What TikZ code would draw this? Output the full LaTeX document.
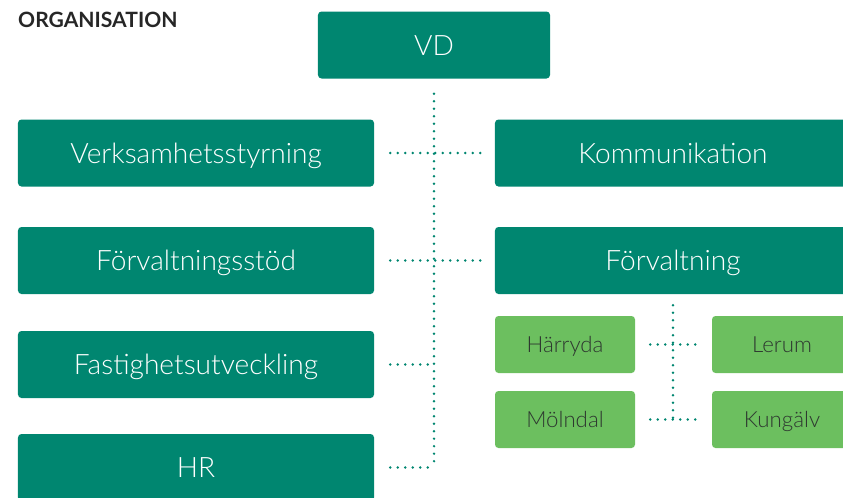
\documentclass[tikz,border=0pt]{standalone}
\usepackage{fontspec}
\setmainfont{Lato}[UprightFont={* Light},BoldFont={* Bold}]
\definecolor{darkgreen}{HTML}{008670}
\definecolor{lightgreen}{HTML}{6CBF5F}
\definecolor{textgray}{HTML}{2E3830}

\begin{document}
\begin{tikzpicture}[x=0.03cm, y=-0.03cm,
    unit/.style={fill=darkgreen, rounded corners=3pt, text=white, inner sep=0pt,
      text height=17.2pt, text depth=0pt,
      minimum width=10.68cm, minimum height=2.01cm, font=\fontsize{24}{28}\selectfont},
    office/.style={fill=lightgreen, rounded corners=3pt, text=textgray, inner sep=0pt,
      text height=13.6pt, text depth=0pt,
      minimum width=4.2cm, minimum height=1.71cm, font=\fontsize{19}{22}\selectfont},
    link/.style={draw=darkgreen, line width=2.3pt, line cap=round, dash pattern=on 0pt off 6.4pt}]
   \useasboundingbox (0,0) rectangle (843,497);
   \clip (0,0) rectangle (843,497);
   \node[anchor=north west, inner sep=0pt, text=black!85,
     font=\bfseries\fontsize{18}{20}\selectfont] (title) at (18,12) {ORGANISATION};
   \node[unit, minimum width=6.96cm] (vd) at (434,45) {VD};
   \node[unit] (vs)   at (196,153)   {Verksamhetsstyrning};
   \node[unit] (stod) at (196,260.5) {Förvaltningsstöd};
   \node[unit] (fast) at (196,364.5) {Fastighetsutveckling};
   \node[unit] (hr)   at (196,467.5) {HR};
   \node[unit] (kom)  at (673,153)   {Kommunikation};
   \node[unit] (fv)   at (673,260.5) {Förvaltning};
   \node[office] (har) at (565,344.5) {Härryda};
   \node[office] (ler) at (782,344.5) {Lerum};
   \node[office] (mol) at (565,419.5) {Mölndal};
   \node[office] (kun) at (782,419.5) {Kungälv};
   \draw[link] ([yshift=-0.45cm]vd.south) -- (hr.east -| vd.south);
   \draw[link] ([xshift=0.48cm]vs.east) -- ([xshift=-0.39cm]kom.west);
   \draw[link] ([xshift=0.48cm]stod.east) -- ([xshift=-0.39cm]fv.west);
   \draw[link] ([xshift=0.48cm]fast.east) -- (fast.east -| vd.south);
   \draw[link] ([xshift=0.48cm]hr.east) -- (hr.east -| vd.south);
   \draw[link] ([yshift=-0.33cm]fv.south) -- (mol.east -| fv.south);
   \draw[link] ([xshift=0.45cm]har.east) -- ([xshift=-0.42cm]ler.west);
   \draw[link] ([xshift=0.45cm]mol.east) -- ([xshift=-0.42cm]kun.west);
\end{tikzpicture}
\end{document}
